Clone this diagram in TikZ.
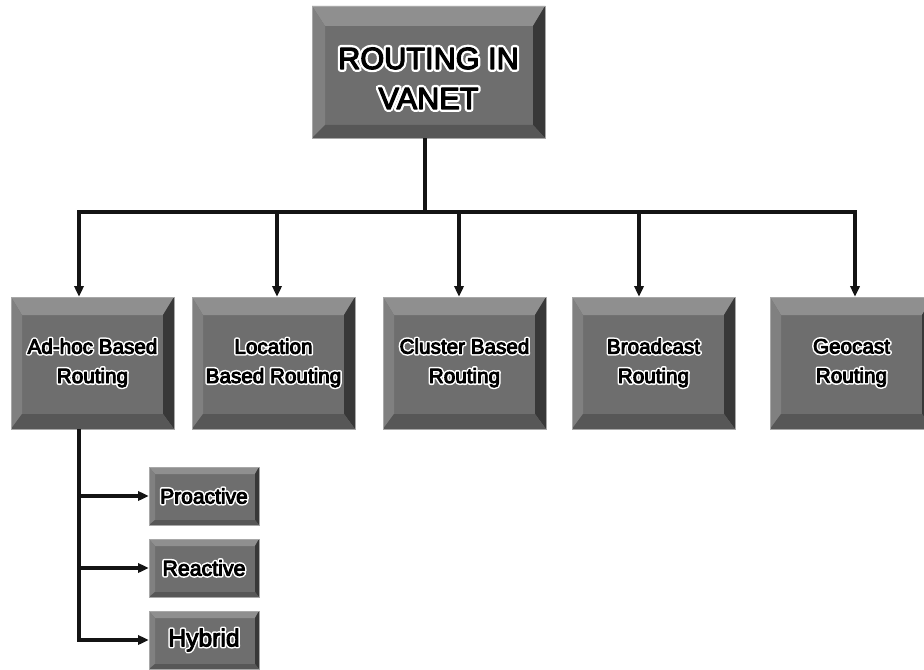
\documentclass[tikz,border=0pt]{standalone}
\usepackage{fontspec}
\setmainfont{Liberation Sans}
\usetikzlibrary{calc,arrows.meta}
\definecolor{face}{gray}{0.43}
\definecolor{bvT}{gray}{0.56}
\definecolor{bvL}{gray}{0.50}
\definecolor{bvR}{gray}{0.22}
\definecolor{bvB}{gray}{0.34}
\definecolor{edge}{gray}{0.66}
\tikzset{
  bw/.code args={#1/#2/#3/#4}{\def\bvl{#1}\def\bvt{#2}\def\bvr{#3}\def\bvb{#4}},
  bevelbox/.style={rectangle, inner sep=0pt, align=center, fill=face, draw=edge, line width=0.5pt,
    path picture={
      \coordinate (bvsw) at (path picture bounding box.south west);
      \coordinate (bvne) at (path picture bounding box.north east);
      \coordinate (bvnw) at (path picture bounding box.north west);
      \coordinate (bvse) at (path picture bounding box.south east);
      \coordinate (bvisw) at ($(bvsw)+(\bvl,\bvb)$);
      \coordinate (bvine) at ($(bvne)+(-\bvr,-\bvt)$);
      \coordinate (bvinw) at (bvisw |- bvine);
      \coordinate (bvise) at (bvine |- bvisw);
      \fill[bvT] (bvnw) -- (bvne) -- (bvine) -- (bvinw) -- cycle;
      \fill[bvL] (bvnw) -- (bvinw) -- (bvisw) -- (bvsw) -- cycle;
      \fill[bvR] (bvne) -- (bvse) -- (bvise) -- (bvine) -- cycle;
      \fill[bvB] (bvsw) -- (bvisw) -- (bvise) -- (bvse) -- cycle;
    }},
  topbox/.style={bevelbox, bw=13/20/12/13, minimum width=174.75pt, minimum height=99pt,
    font=\fontsize{23}{30}\selectfont},
  midbox/.style={bevelbox, bw=11/18/11/15, minimum width=122.25pt, minimum height=99pt,
    font=\fontsize{15.5}{22}\selectfont},
  smallbox/.style={bevelbox, bw=6/7/4/5, minimum width=82.5pt, minimum height=43.5pt},
  conn/.style={line width=2.3pt, black!92, line join=miter},
  >={Triangle[length=8pt,width=7pt]}
}
% black (slightly emboldened) text with a white halo: a wide white stroked outline under it
% #1 = halo stroke width, #2 = black stroke width, #3 = text
\newcommand\halotext[3]{\setbox0\hbox{#3}%
  \special{pdf:literal q 1 Tr 1 1 1 RG #1 w 1 j 1 J}%
  \copy0\kern-\wd0
  \special{pdf:literal Q}%
  \special{pdf:literal q 2 Tr 0 0 0 RG 0 0 0 rg #2 w 1 j}%
  \copy0\kern-\wd0
  \special{pdf:literal Q}%
  \kern\wd0}
\newcommand\hw[1]{\halotext{3.0}{0.7}{#1}}
\newcommand\hwbig[1]{\halotext{4.4}{0.9}{#1}}
\begin{document}
\begin{tikzpicture}[x=0.75pt,y=0.75pt]
\useasboundingbox (0,0) rectangle (924,-670);
\clip (0,0) rectangle (924,-670);
\fill[white] (0,0) rectangle (924,-670);

\node[topbox] (top) at (428.5,-72) {\rule{0pt}{25.5pt}\hwbig{ROUTING IN}\\\hwbig{VANET}};

\node[midbox] (b1) at (92.5,-363) {\hw{Ad-hoc Based}\\\hw{Routing}};
\node[midbox] (b2) at (273.5,-363) {\hw{Location}\\\hw{Based Routing}};
\node[midbox] (b3) at (464.5,-363) {\hw{Cluster Based}\\\hw{Routing}};
\node[midbox] (b4) at (653.5,-363) {\hw{Broadcast}\\\hw{Routing}};
\node[midbox] (b5) at (851.5,-363) {\hw{Geocast}\\\hw{Routing}};

\node[smallbox, font=\fontsize{15.75}{18}\selectfont] (s1) at (204,-496) {\hw{Proactive}};
\node[smallbox, font=\fontsize{16}{18}\selectfont] (s2) at (204,-568) {\hw{Reactive}};
\node[smallbox, font=\fontsize{18.5}{20}\selectfont] (s3) at (204,-640) {\hw{Hybrid}};

\coordinate (ct) at (425,-212);
\coordinate (busL) at (79,-212);
\coordinate (busR) at (855,-212);
\coordinate (j2) at (277,-212);
\coordinate (j3) at (459,-212);
\coordinate (j4) at (639,-212);

\draw[conn] (top.south -| ct) -- (ct);
\draw[conn,<->] (busL |- b1.north) -- (busL) -- (busR) -- (busR |- b5.north);
\draw[conn,->] (j2) -- (j2 |- b2.north);
\draw[conn,->] (j3) -- (j3 |- b3.north);
\draw[conn,->] (j4) -- (j4 |- b4.north);

\draw[conn,->] (b1.south -| busL) |- (s3.west);
\draw[conn,->] (busL |- s1.west) -- (s1.west);
\draw[conn,->] (busL |- s2.west) -- (s2.west);
\end{tikzpicture}
\end{document}
